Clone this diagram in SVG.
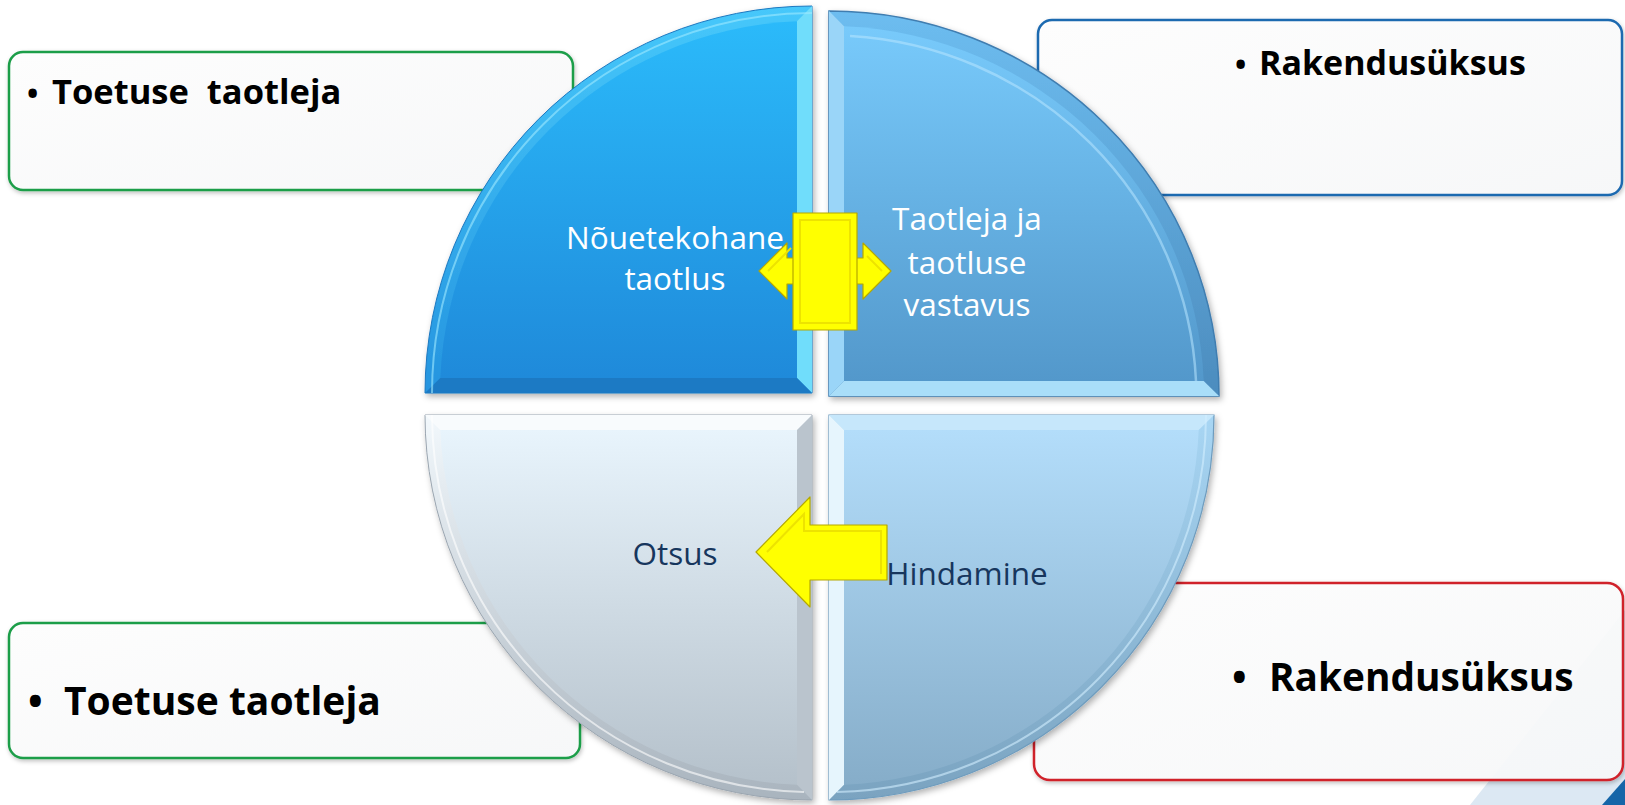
<svg xmlns="http://www.w3.org/2000/svg" width="1625" height="805" viewBox="0 0 1625 805">
<defs>
<filter id="sh" x="-10%" y="-10%" width="120%" height="120%"><feDropShadow dx="2" dy="3" stdDeviation="3" flood-color="#000" flood-opacity="0.3"/></filter>
<filter id="bsh" x="-5%" y="-5%" width="110%" height="115%"><feDropShadow dx="1" dy="2" stdDeviation="2" flood-color="#000" flood-opacity="0.25"/></filter>
<linearGradient id="gTL" x1="0" y1="0" x2="0" y2="1"><stop offset="0" stop-color="#2BBAFA"/><stop offset="1" stop-color="#1F8ADA"/></linearGradient>
<linearGradient id="gTLo" x1="0" y1="0" x2="0" y2="1"><stop offset="0" stop-color="#46C8FB"/><stop offset="1" stop-color="#2594DF"/></linearGradient>
<linearGradient id="gTR" x1="0" y1="0" x2="0" y2="1"><stop offset="0" stop-color="#78CAFB"/><stop offset="1" stop-color="#5398CB"/></linearGradient>
<linearGradient id="gTRo" x1="0" y1="0" x2="0" y2="1"><stop offset="0" stop-color="#6DBDF0"/><stop offset="1" stop-color="#4C8CBE"/></linearGradient>
<linearGradient id="gBL" x1="0" y1="0" x2="0" y2="1"><stop offset="0" stop-color="#E8F4FC"/><stop offset="1" stop-color="#B5C1CB"/></linearGradient>
<linearGradient id="gBLo" x1="0" y1="0" x2="0" y2="1"><stop offset="0" stop-color="#F2F8FC"/><stop offset="1" stop-color="#A9B4BE"/></linearGradient>
<linearGradient id="gBR" x1="0" y1="0" x2="0" y2="1"><stop offset="0" stop-color="#B3DDFA"/><stop offset="1" stop-color="#86ADC9"/></linearGradient>
<linearGradient id="gBRo" x1="0" y1="0" x2="0" y2="1"><stop offset="0" stop-color="#A8D6F4"/><stop offset="1" stop-color="#7AA3C0"/></linearGradient>
<linearGradient id="gBox" x1="0" y1="0" x2="1" y2="1"><stop offset="0" stop-color="#FFFFFF"/><stop offset="1" stop-color="#F8F9FA"/></linearGradient>
<style>
.box{fill:url(#gBox);fill-opacity:0.93;stroke-width:2.5;filter:url(#bsh)}
.bt{font-family:"Open Sans","Noto Sans","Liberation Sans",sans-serif;font-weight:700;fill:#000}
.qt{font-family:"Open Sans","Noto Sans","Liberation Sans",sans-serif;font-size:31.5px;text-anchor:middle}
.w{fill:#FFFFFF}
.n{fill:#17365D}
.yel{fill:#FFFF00;stroke:#B5A800;stroke-width:1.2;stroke-linejoin:round}
.bev{fill:none;stroke:#EDE300;stroke-width:2}
</style>
</defs>
<rect width="1625" height="805" fill="#FFFFFF"/>
<g id="decor">
<polygon points="1470,805 1625,610 1625,805" fill="#DCE8F3"/>
<polygon points="1602,805 1625,779 1625,805" fill="#1565A8"/>
</g>
<g id="box-tl">
<rect class="box" x="9" y="52" width="564" height="138" rx="14" stroke="#1E9E4A"/>
<text class="bt" font-size="34.5" xml:space="preserve"><tspan x="27" y="104" font-size="30">•</tspan><tspan x="52" y="104">Toetuse  taotleja</tspan></text>
</g>
<g id="box-tr">
<rect class="box" x="1038" y="20" width="584" height="175" rx="14" stroke="#1F6AB0"/>
<text class="bt" font-size="34"><tspan x="1235" y="75" font-size="30">•</tspan><tspan x="1259" y="75">Rakendusüksus</tspan></text>
</g>
<g id="box-bl">
<rect class="box" x="9" y="623" width="571" height="135" rx="14" stroke="#1E9E4A"/>
<text class="bt" font-size="39"><tspan x="28" y="715">•</tspan><tspan x="64" y="715">Toetuse taotleja</tspan></text>
</g>
<g id="box-br">
<rect class="box" x="1034" y="583" width="589" height="197" rx="16" stroke="#D0202A"/>
<text class="bt" font-size="38.8"><tspan x="1232" y="691">•</tspan><tspan x="1269" y="691">Rakendusüksus</tspan></text>
</g>
<g id="q-tl">
<g filter="url(#sh)">
<path d="M812,393 L425,393 A387,387 0 0 1 812,6 Z" fill="url(#gTLo)" stroke="#1B78C0" stroke-width="1"/>
</g>
<polygon points="812,6 797,21.3 797,378 812,393" fill="#70DDFB"/>
<polygon points="425,393 440.3,378 797,378 812,393" fill="#1C7AC4"/>
<path d="M797,378 L440.3,378 A372,372 0 0 1 797,21.3 Z" fill="url(#gTL)"/>
<path d="M432,393 A380,380 0 0 1 812,13" fill="none" stroke="#9FEAFF" stroke-width="2" opacity="0.6"/>
<text class="qt w"><tspan x="675" y="249">Nõuetekohane</tspan><tspan x="675" y="290">taotlus</tspan></text>
</g>
<g id="q-tr">
<g filter="url(#sh)">
<path d="M829,396 L829,11 A390,385 0 0 1 1219,396 Z" fill="url(#gTRo)" stroke="#3F7DB0" stroke-width="1.5"/>
</g>
<polygon points="829,11 844,26.3 844,381 829,396" fill="#9AD5F8"/>
<polygon points="829,396 844,381 1203.7,381 1219,396" fill="#A9DEF9"/>
<path d="M844,381 L844,26.3 A375,370 0 0 1 1203.7,381 Z" fill="url(#gTR)"/>
<path d="M850,36 A368,362 0 0 1 1196,381" fill="none" stroke="#B8E6FF" stroke-width="2.5" opacity="0.55"/>
<text class="qt w"><tspan x="967" y="230">Taotleja ja</tspan><tspan x="967" y="274">taotluse</tspan><tspan x="967" y="316">vastavus</tspan></text>
</g>
<g id="q-bl">
<g filter="url(#sh)">
<path d="M812,415 L812,800 A387,385 0 0 1 425,415 Z" fill="url(#gBLo)" stroke="#9AA5B0" stroke-width="1"/>
</g>
<polygon points="425,415 812,415 797,430 440.3,430" fill="#F8FBFD"/>
<polygon points="812,415 812,800 797,784.7 797,430" fill="#BAC4CD"/>
<path d="M797,430 L797,784.7 A372,370 0 0 1 440.3,430 Z" fill="url(#gBL)"/>
<path d="M804,792 A380,378 0 0 1 432,415" fill="none" stroke="#FFFFFF" stroke-width="2" opacity="0.6"/>
<text class="qt n" x="675" y="565">Otsus</text>
</g>
<g id="q-br">
<g filter="url(#sh)">
<path d="M829,415 L1214,415 A385,385 0 0 1 829,800 Z" fill="url(#gBRo)" stroke="#6E9CBE" stroke-width="1.2"/>
</g>
<polygon points="829,415 1214,415 1198.7,430 844,430" fill="#C6E7FB"/>
<polygon points="829,415 844,430 844,784.7 829,800" fill="#E6F5FD"/>
<path d="M844,430 L1198.7,430 A370,370 0 0 1 844,784.7 Z" fill="url(#gBR)"/>
<path d="M1206,415 A377,377 0 0 1 837,792" fill="none" stroke="#D2EEFF" stroke-width="2" opacity="0.6"/>
<text class="qt n" x="967" y="585">Hindamine</text>
</g>
<g id="connectors">
<polygon class="yel" points="759,271 787,243 787,258 863,258 863,243 891,271 863,299 863,284 787,284 787,299"/>
<polyline class="bev" points="768,271 791,248"/>
<polyline class="bev" points="882,271 867,256"/>
<rect class="yel" x="793" y="213" width="64" height="117"/>
<rect class="bev" x="800" y="220" width="50" height="103"/>
<polygon class="yel" points="756,552 810,497 810,525 887,525 887,580 810,580 810,607"/>
<polyline class="bev" points="767,552 804,514 804,531 881,531 881,574"/>
</g>
</svg>
